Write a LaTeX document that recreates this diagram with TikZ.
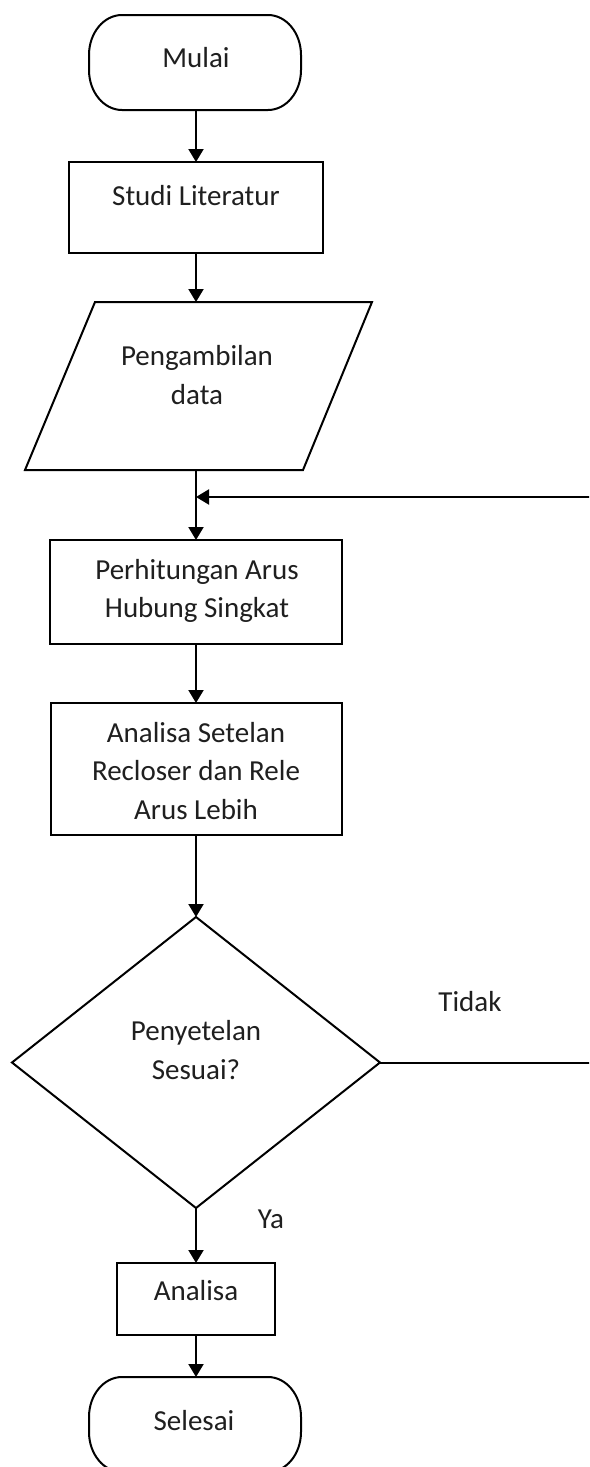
\documentclass[tikz,border=0pt]{standalone}
\usepackage{fontspec}
\setmainfont{Carlito}
\usetikzlibrary{shapes.geometric,arrows.meta}
\begin{document}
\begin{tikzpicture}[x=0.5pt,y=-0.5pt,
  shp/.style={draw=black, line width=1pt, inner sep=0pt, outer sep=0pt},
  termbox/.style={rectangle, inner sep=0pt, outer sep=0pt, minimum width=106pt, minimum height=47.5pt},
  proc/.style={shp, rectangle},
  txt/.style={font=\fontsize{14.5pt}{19.25pt}\selectfont, text=black!88, align=center, inner sep=0pt},
  arr/.style={-{Triangle[length=6.5pt,width=7.5pt]}, line width=1pt},
  con/.style={line width=1pt}]
\path[use as bounding box, clip] (0,0) rectangle (589,1467);
\fill[white] (0,0) rectangle (589,1467);

% terminal outline with elliptical ends
\newcommand\termoutline[1]{%
  \draw[con] ([xshift=16.5pt]#1.north west) -- ([xshift=-16.5pt]#1.north east)
    arc[start angle=90,end angle=0,x radius=16.5pt,y radius=20pt]
    -- ++(0,-7.5pt)
    arc[start angle=0,end angle=-90,x radius=16.5pt,y radius=20pt]
    -- ([xshift=16.5pt]#1.south west)
    arc[start angle=270,end angle=180,x radius=16.5pt,y radius=20pt]
    -- ++(0,7.5pt)
    arc[start angle=180,end angle=90,x radius=16.5pt,y radius=20pt] -- cycle;}

% terminal start
\node[termbox] (start) at (195,62.5) {};
\termoutline{start}
\node[txt] (tstart) at (196,57.5) {Mulai};

% Studi Literatur
\node[proc, minimum width=127pt, minimum height=45.5pt] (studi) at (196,207.5) {};
\node[txt] (tstudi) at (196,196) {Studi Literatur};

% parallelogram
\coordinate (dtl) at (95,302);
\coordinate (dtr) at (372,302);
\coordinate (dbr) at (303,470);
\coordinate (dbl) at (25,470);
\draw[con] (dtl) -- (dtr) -- (dbr) -- (dbl) -- cycle;
\coordinate (dtop) at (196,302);
\coordinate (dbot) at (196,470);
\node[txt] (tdata) at (197,375) {Pengambilan\\data};

% Perhitungan
\node[proc, minimum width=146pt, minimum height=52pt] (perh) at (196,592) {};
\node[txt] (tperh) at (197,591) {Perhitungan Arus\\Hubung Singkat};

% Analisa Setelan
\node[proc, minimum width=145.5pt, minimum height=66pt] (anset) at (196,769) {};
\node[txt] (tanset) at (196,771) {Analisa Setelan\\Recloser dan Rele\\Arus Lebih};

% decision
\node[shp, diamond, minimum width=184pt, minimum height=145.5pt] (dec) at (196,1062.5) {};
\node[txt] (tdec) at (196,1050) {Penyetelan\\Sesuai?};
\node[txt] (ttidak) at (470,1002) {Tidak};
\node[txt] (tya) at (271,1219) {Ya};

% Analisa
\node[proc, minimum width=79pt, minimum height=36pt] (anal) at (196,1299) {};
\node[txt] (tanal) at (196,1291) {Analisa};

% terminal end
\node[termbox] (end) at (195,1424.5) {};
\termoutline{end}
\node[txt] (tend) at (194,1421) {Selesai};

% connectors
\coordinate (junc) at (196,497);
\draw[arr] (start.south -| studi.north) -- (studi);
\draw[arr] (studi) -- (dtop);
\draw[arr] (dbot) -- (perh);
\draw[arr] (dec.east) -- (600,1062.5) -- (600,497) -- (junc);
\draw[arr] (perh) -- (anset);
\draw[arr] (anset) -- (dec);
\draw[arr] (dec) -- (anal);
\draw[arr] (anal) -- (end.north -| anal.south);
\end{tikzpicture}
\end{document}
